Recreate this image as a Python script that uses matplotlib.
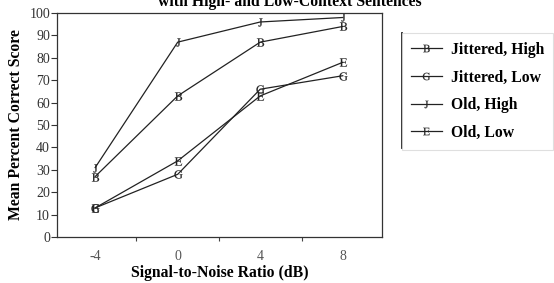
import matplotlib.pyplot as plt
from matplotlib.lines import Line2D

snr = [-4, 0, 4, 8]
jittered_high = [27, 63, 87, 94]
jittered_low = [13, 28, 66, 72]
old_high = [31, 87, 96, 98]
old_low = [13, 34, 63, 78]

series = [
    ("Jittered, High", jittered_high, "B"),
    ("Jittered, Low", jittered_low, "G"),
    ("Old, High", old_high, "J"),
    ("Old, Low", old_low, "E"),
]

plt.rcParams["font.family"] = ["Liberation Serif", "DejaVu Serif"]
plt.rcParams["mathtext.fontset"] = "stix"
plt.rcParams["axes.unicode_minus"] = False

fig = plt.figure(figsize=(5.54, 2.83), dpi=100)
ax = fig.add_axes([0.1029, 0.1625, 0.5866, 0.7915])

for label, vals, letter in series:
    ax.plot(snr, vals, color="#222222", linewidth=0.9,
            marker="$\\mathrm{" + letter + "}$", markersize=6,
            markeredgewidth=0.1, label=label)

ax.set_xlim(-5.85, 9.9)
ax.set_ylim(0, 100)
ax.set_yticks(range(0, 101, 10))
ax.set_xticks(snr)
ax.set_xticks([-2, 2, 6], minor=True)
ax.tick_params(axis="x", which="major", length=0, pad=9, labelsize=10, colors="#555555")
ax.tick_params(axis="x", which="minor", length=3, width=0.8, direction="out", colors="#444444")
ax.tick_params(axis="y", length=4, width=0.8, pad=1, labelsize=10, colors="#333333")
for s in ax.spines.values():
    s.set_linewidth(0.9)
    s.set_color("#333333")

ax.set_xlabel("Signal-to-Noise Ratio (dB)", fontsize=11.3, fontweight="bold", labelpad=2)
ax.set_ylabel("Mean Percent Correct Score", fontsize=11.3, fontweight="bold", labelpad=4)

fig.text(0.524, 1.0 - 1.5 / 283, "with High- and Low-Context Sentences",
         ha="center", va="center", fontsize=11.3, fontweight="bold")

leg = fig.legend(loc="upper left", bbox_to_anchor=(402 / 554, 1 - 33 / 283),
                 frameon=True, fancybox=False, borderaxespad=0,
                 prop={"weight": "bold", "size": 11.3}, handlelength=2.0,
                 labelspacing=0.75, borderpad=0.55, handletextpad=0.6,
                 markerscale=0.9)
leg.get_frame().set_edgecolor("#d8d8d8")
leg.get_frame().set_linewidth(0.8)
fig.add_artist(Line2D([402 / 554, 402 / 554], [1 - 33 / 283, 1 - 148 / 283],
                      color="#222222", linewidth=1.3))

fig.savefig("out.png", dpi=100)
